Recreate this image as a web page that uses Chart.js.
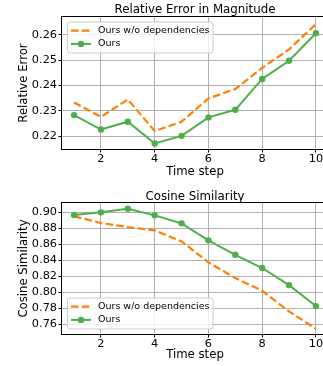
<!DOCTYPE html>
<html><head><meta charset="utf-8">
<script src="https://cdn.jsdelivr.net/npm/chart.js@4.4.0/dist/chart.umd.min.js"></script>
<style>
html,body{margin:0;padding:0;background:#fff;width:323px;height:366px;overflow:hidden;}
canvas{position:absolute;left:0;}
#c1{top:0}#c2{top:183px}
</style></head><body>
<canvas id="c1" width="340" height="183"></canvas>
<canvas id="c2" width="340" height="183"></canvas>
<script>
const steps = [1,2,3,4,5,6,7,8,9,10];
const seriesNames = ['Ours w/o dependencies','Ours'];
const errNoDep = [0.2333,0.2276,0.2345,0.2220,0.2257,0.2349,0.2386,0.2470,0.2543,0.2643];
const errOurs  = [0.2283,0.2226,0.2257,0.2171,0.2201,0.2274,0.2304,0.2426,0.2498,0.2607];
const cosNoDep = [0.8950,0.8866,0.8816,0.8774,0.8636,0.8373,0.8176,0.8017,0.7758,0.7540];
const cosOurs  = [0.8966,0.9000,0.9045,0.8962,0.8862,0.8649,0.8468,0.8302,0.8088,0.7825];
const xTicks = [2,4,6,8,10];
const errTicks = [0.22,0.23,0.24,0.25,0.26];
const cosTicks = [0.76,0.78,0.80,0.82,0.84,0.86,0.88,0.90];
const titles = ['Relative Error in Magnitude','Cosine Similarity'];
const yTitles = ['Relative Error','Cosine Similarity'];
const xTitle = 'Time step';

Chart.defaults.font.family = "'DejaVu Sans', sans-serif";
Chart.defaults.color = '#000';

const framePlugin = {
  id: 'frame',
  afterDatasetsDraw(chart, args, opts) {
    const ctx = chart.ctx, a = chart.chartArea;
    ctx.save();
    // spines
    ctx.strokeStyle = '#000'; ctx.lineWidth = 1;
    const L = Math.round(a.left) - 0.5, T = Math.round(a.top) - 0.5;
    const R = Math.round(a.right) + 0.5, B = Math.round(a.bottom) + 0.5;
    ctx.strokeRect(L, T, R - L, B - T);
    // title
    ctx.fillStyle = '#000';
    ctx.font = "11.8px 'DejaVu Sans'";
    ctx.textAlign = 'center'; ctx.textBaseline = 'alphabetic';
    ctx.fillText(opts.title, (a.left + a.right) / 2, a.top - opts.titleGap);
    // legend
    const lx = a.left + 5.5, lw = 145.5, lh = 31;
    const ly = opts.legendPos === 'top' ? a.top + 5 : a.bottom - 5 - lh;
    ctx.beginPath();
    ctx.roundRect(lx, ly, lw, lh, 2.5);
    ctx.fillStyle = 'rgba(255,255,255,0.8)';
    ctx.fill();
    ctx.strokeStyle = '#cccccc'; ctx.lineWidth = 1;
    ctx.stroke();
    chart.data.datasets.forEach((ds, i) => {
      const y = ly + 8.6 + i * 13.3;
      ctx.save();
      ctx.strokeStyle = ds.borderColor; ctx.lineWidth = ds.borderWidth;
      ctx.setLineDash(ds.borderDash || []);
      ctx.beginPath(); ctx.moveTo(lx + 3.5, y); ctx.lineTo(lx + 23.5, y); ctx.stroke();
      ctx.restore();
      if (ds.pointRadius > 0) {
        ctx.beginPath(); ctx.arc(lx + 13.5, y, ds.pointRadius, 0, Math.PI * 2);
        ctx.fillStyle = ds.pointBackgroundColor; ctx.fill();
      }
      ctx.fillStyle = '#000';
      ctx.font = "9.5px 'DejaVu Sans'";
      ctx.textAlign = 'left'; ctx.textBaseline = 'middle';
      ctx.fillText(ds.label, lx + 30.5, y);
    });
    ctx.restore();
  }
};

function makeChart(id, noDep, ours, yTicks, yMin, yMax, title, yTitle, padTop, xAxisH, legendPos, titleGap) {
  const gridOpts = {color: '#b0b0b0', lineWidth: 1, tickLength: 3.5, tickColor: '#000', drawTicks: true};
  return new Chart(document.getElementById(id), {
    type: 'line',
    data: {
      datasets: [
        {label: seriesNames[0], data: steps.map((s, i) => ({x: s, y: noDep[i]})),
         borderColor: '#ff7f00', backgroundColor: '#ff7f00', borderWidth: 2.2, borderDash: [7.5, 3.3],
         pointRadius: 0, fill: false, tension: 0, order: 1},
        {label: seriesNames[1], data: steps.map((s, i) => ({x: s, y: ours[i]})),
         borderColor: '#4daf4a', backgroundColor: '#4daf4a', borderWidth: 2,
         pointRadius: 3.2, pointBackgroundColor: '#4daf4a', pointBorderColor: '#4daf4a', pointBorderWidth: 0,
         fill: false, tension: 0, order: 0}
      ]
    },
    options: {
      responsive: false, animation: false, devicePixelRatio: 1,
      layout: {padding: {left: 0, right: 12, top: padTop, bottom: 0}},
      plugins: {
        legend: {display: false}, tooltip: {enabled: false},
        frame: {title: title, legendPos: legendPos, titleGap: titleGap}
      },
      scales: {
        x: {
          type: 'linear', min: 0.55, max: 10.45,
          afterBuildTicks: s => { s.ticks = xTicks.map(v => ({value: v})); },
          afterFit: s => { s.height = xAxisH; },
          grid: gridOpts, border: {display: false},
          ticks: {color: '#000', font: {size: 11.3}, padding: 0, maxRotation: 0, autoSkip: false, callback: v => String(v)},
          title: {display: true, text: xTitle, color: '#000', font: {size: 11.7}, padding: {top: 0, bottom: 3.8}}
        },
        y: {
          type: 'linear', min: yMin, max: yMax,
          afterBuildTicks: s => { s.ticks = yTicks.map(v => ({value: v})); },
          afterFit: s => { s.width = 62; },
          grid: gridOpts, border: {display: false},
          ticks: {color: '#000', font: {size: 11.3}, padding: 1.5, autoSkip: false, callback: v => v.toFixed(2)},
          title: {display: true, text: yTitle, color: '#000', font: {size: 11.7}, padding: {top: 16.5, bottom: 0}}
        }
      }
    },
    plugins: [framePlugin]
  });
}

makeChart('c1', errNoDep, errOurs, errTicks, 0.2149, 0.2671, titles[0], yTitles[0], 17, 34, 'top', 3.7);
makeChart('c2', cosNoDep, cosOurs, cosTicks, 0.7475, 0.9117, titles[1], yTitles[1], 20, 32, 'bottom', 3.3);
</script>
</body></html>
